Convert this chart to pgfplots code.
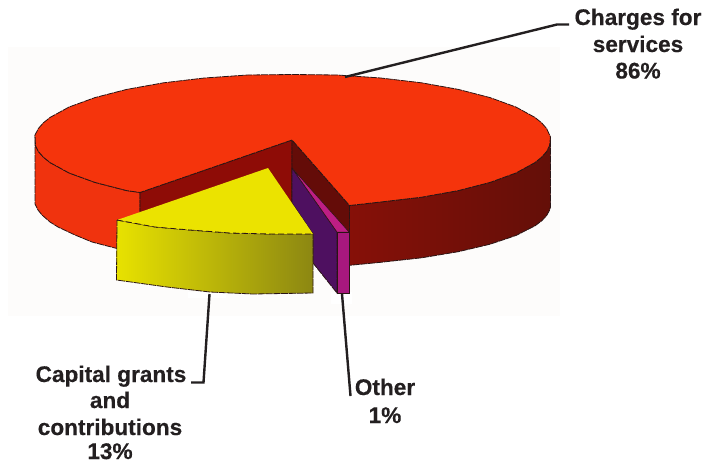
\documentclass[border=0pt]{standalone}
\usepackage{pgfplots}
\usepackage{fontspec}
\setmainfont{Liberation Sans}[BoldFeatures={FakeBold=0.35}]
\pgfplotsset{compat=1.18}
\definecolor{txt}{HTML}{231F20}
\definecolor{paper}{HTML}{FDFCFB}
\definecolor{redtop}{HTML}{F5340C}
\definecolor{redside}{HTML}{F0330E}
\definecolor{wallL}{HTML}{8E0C06}
\definecolor{wallR}{HTML}{640C08}
\definecolor{sideA}{HTML}{861008}
\definecolor{sideB}{HTML}{640F08}
\definecolor{yelTop}{HTML}{EBE300}
\definecolor{yelA}{HTML}{E8E200}
\definecolor{yelB}{HTML}{8C8712}
\definecolor{purp}{HTML}{4E1060}
\definecolor{pinkT}{HTML}{BE1E84}
\definecolor{pinkF}{HTML}{A8187E}
\definecolor{edge}{HTML}{2A1414}
\tikzset{lab/.style={anchor=base,inner sep=0pt,text=txt,font=\fontsize{22.6}{26}\selectfont\bfseries},
 rim/.style={draw=edge,line width=0.8pt,dash pattern=on 7pt off 0.8pt},
 leader/.style={no marks,draw=txt,line width=2.4pt,line join=miter}}
\begin{document}
\begin{tikzpicture}
\begin{axis}[hide axis,scale only axis,width=708pt,height=463pt,xmin=0,xmax=708,ymin=0,ymax=463,y dir=reverse,clip=false]
% paper
\addplot[draw=none,fill=white] coordinates {(0,0)(708,0)(708,463)(0,463)} --cycle;
\addplot[draw=none,fill=paper] coordinates {(8,47)(560,47)(560,316)(8,316)} --cycle;
% white marks round the leaders
\addplot[draw=none,fill=white] coordinates {(188,292)(226,292)(226,298)(188,298)} --cycle;
\addplot[draw=none,fill=white] coordinates {(331,292)(352,292)(352,304)(331,304)} --cycle;
% red side, left
\addplot[fill=redside,rim] coordinates {(35,135)(35.5,145.8)(38.4,151.5)(43.3,157.1)(50.1,162.6)(69.1,173)(94.9,182.4)(126.7,190.6)(140,192.5)(140,253)(115,248)(92,242)(75,235)(58,227)(50,222)(42,215)(38,210)(35,204)} --cycle;
% dark side, right
\addplot[left color=sideA,right color=sideB,rim] coordinates {(349.5,205.5)(380.7,202)(421.5,197.2)(458.3,190.6)(490.1,182.4)(515.9,173)(534.9,162.6)(541.7,157.1)(546.6,151.5)(549.5,145.8)(550.5,137)(550.5,207)(549.5,210.3)(546.6,215.6)(541.7,220.8)(534.9,225.9)(515.9,235.5)(490.1,244.2)(458.3,251.7)(421.5,257.8)(380.7,262.3)(349.5,265.3)} --cycle;
% inner walls
\addplot[fill=wallL,rim] coordinates {(140,192.5)(292,140)(292,205)(140,245)} --cycle;
\addplot[fill=wallR,rim] coordinates {(292,140)(349.5,205.5)(349.5,265)(292,205)} --cycle;
% top face
\addplot[fill=redtop,rim] coordinates {(292,140)(140,192.5)(126.7,190.6)(94.9,182.4)(69.1,173)(50.1,162.6)(43.3,157.1)(38.4,151.5)(35.5,145.8)(35,135)(38.4,128.5)(43.3,122.9)(50.1,117.4)(69.1,107)(94.9,97.6)(126.7,89.4)(163.5,82.8)(204.3,78)(247.7,75)(292.5,74.5)(337.3,75)(380.7,78)(421.5,82.8)(458.3,89.4)(490.1,97.6)(515.9,107)(534.9,117.4)(541.7,122.9)(546.6,128.5)(550.5,137)(549.5,145.8)(546.6,151.5)(541.7,157.1)(534.9,162.6)(515.9,173)(490.1,182.4)(458.3,190.6)(421.5,197.2)(380.7,202)(349.5,205.5)} --cycle;
% other slice
\addplot[fill=purp,rim] coordinates {(292,168)(337,232)(337,293)(313,263)(313,234)(292,203)} --cycle;
\addplot[fill=pinkT,draw=edge,line width=0.5pt] coordinates {(292,168)(349,232)(337,232)} --cycle;
\addplot[fill=pinkF,draw=edge,line width=0.6pt] coordinates {(337,232)(349,232)(349,293)(337,293)} --cycle;
% capital slice
\addplot[left color=yelA,right color=yelB,rim] coordinates {(117,220)(155,227)(190,230)(230,233)(270,234)(313,234)(313,293)(253,294)(210,292)(167,287)(116.5,280)} --cycle;
\addplot[fill=yelTop,draw=none] coordinates {(268,168)(313,234)(270,234)(230,233)(190,230)(155,227)(117,220)} --cycle;
\addplot[no marks,draw=edge,line width=0.8pt,dash pattern=on 6pt off 3pt] coordinates {(117,220)(155,227)(190,230)(230,233)(270,234)(313,234)};
% leaders
\addplot[leader] coordinates {(345,77)(557,24.5)(569,24.5)};
\addplot[leader] coordinates {(209.5,294)(203.5,382.5)(191,382.5)};
\addplot[leader] coordinates {(342,294)(350.5,396)};
% labels
\node[lab] at (axis cs:638,25) {Charges for};
\node[lab] at (axis cs:638,52) {services};
\node[lab] at (axis cs:638,78.5) {86\%};
\node[lab] at (axis cs:111,382) {Capital grants};
\node[lab] at (axis cs:110,408) {and};
\node[lab] at (axis cs:110,435) {contributions};
\node[lab] at (axis cs:110,459) {13\%};
\node[lab] at (axis cs:385,395) {Other};
\node[lab] at (axis cs:385,423) {1\%};
\end{axis}
\end{tikzpicture}
\end{document}
